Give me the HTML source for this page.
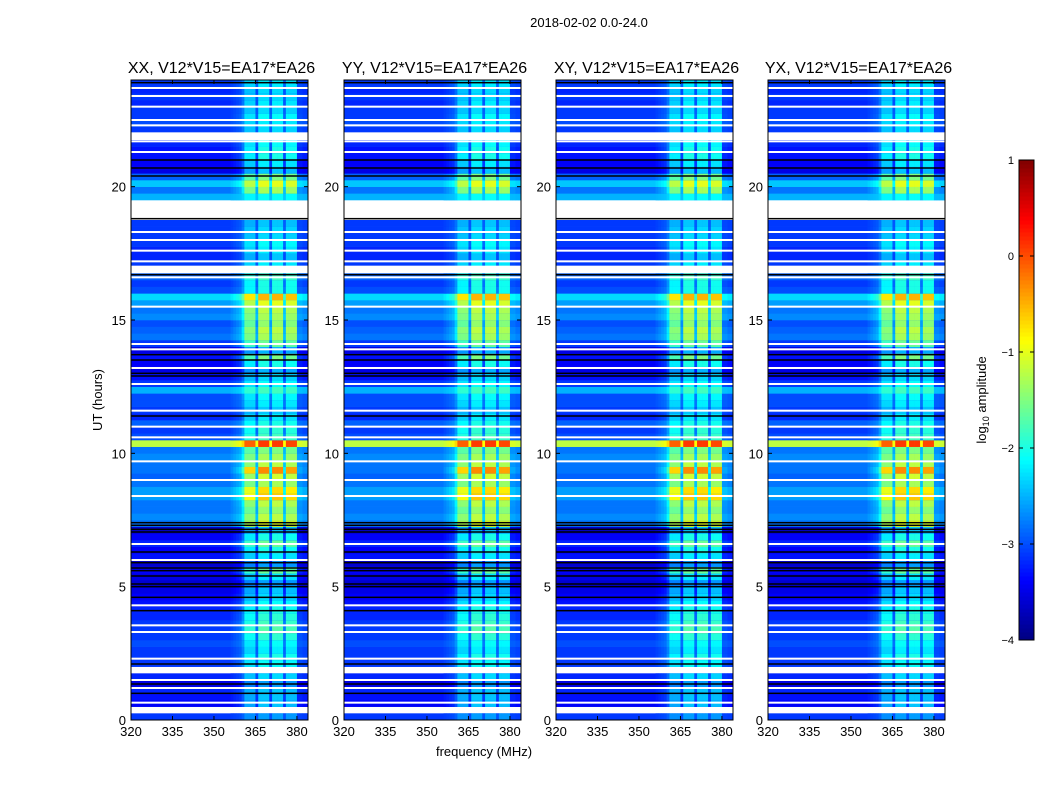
<!DOCTYPE html>
<html><head><meta charset="utf-8"><style>
body{margin:0;background:#fff;}
svg{display:block;font-family:"Liberation Sans",sans-serif;}
</style></head><body>
<svg id="fig" width="1050" height="800" viewBox="0 0 1050 800" xmlns="http://www.w3.org/2000/svg">
<rect width="1050" height="800" fill="#fff"/>
<text x="589" y="27" font-size="13" text-anchor="middle">2018-02-02 0.0-24.0</text>
<text x="484" y="756" font-size="13" text-anchor="middle">frequency (MHz)</text>
<text transform="translate(102,400) rotate(-90)" font-size="13" text-anchor="middle">UT (hours)</text>
<g id="panels"></g>
<g id="cbar"></g>
</svg>
<script>
// ---- data (log10 amplitude), one value per 0.25 h row; null = flagged (white)
const titles = ["XX, V12*V15=EA17*EA26","YY, V12*V15=EA17*EA26","XY, V12*V15=EA17*EA26","YX, V12*V15=EA17*EA26"];
const bgLevel = [
-3.1,null,-3.4,-3.3,-3.2,-3.5,-3.2,null,-3.1,-3.1,-3.1,-3.0,
-3.1,-3.1,-3.1,-3.2,-3.2,-3.3,-3.4,-3.5,-3.6,-3.5,-3.4,-3.6,
-3.3,-3.4,-3.2,-3.4,-3.6,-2.8,-2.7,-2.8,-2.8,-2.6,-2.6,-2.8,
-2.9,-2.8,-2.8,-2.7,-2.8,-1.2,-3.0,-3.1,-2.9,-3.2,-3.1,-3.0,
-3.0,-2.5,-3.1,-3.3,-3.5,-3.4,-3.3,-3.5,-3.1,-2.8,-2.9,-3.0,
-2.7,-2.8,-2.6,-2.3,-3.0,-3.1,-2.9,null,-3.1,-3.2,-3.2,-3.1,
-3.1,-3.1,-3.1,null,null,null,-2.5,-2.8,-2.4,-2.9,-3.5,-3.4,
-3.3,-3.3,-3.2,null,-3.1,-3.0,-3.1,-3.1,-3.2,-3.1,-3.2,-3.1];
const rfiLevel = [
-2.6,null,-2.4,-2.4,-2.4,-2.6,-2.3,null,-2.1,-2.0,-2.2,-2.1,
-1.9,-1.7,-1.8,-1.9,-2.0,-2.1,-2.3,-2.4,-2.6,-2.2,-1.6,-2.6,
-2.2,-2.0,-1.6,-2.0,-2.4,-1.0,-1.2,-1.4,-1.2,-0.6,-0.7,-1.3,
-1.1,-0.3,-1.2,-1.3,-1.5,0.1,-1.8,-1.9,-2.0,-2.2,-2.4,-2.2,
-2.1,-1.8,-2.1,-2.3,-2.5,-2.0,-1.5,-2.5,-1.6,-1.3,-1.2,-1.4,
-1.3,-1.2,-1.0,-0.5,-2.0,-2.0,-1.8,null,-2.2,-2.4,-2.2,-2.1,
-2.3,-2.3,-2.4,null,null,null,-2.1,-1.3,-1.0,-1.5,-2.4,-2.2,
-2.0,-2.0,-2.1,null,-2.3,-2.2,-2.1,-2.3,-2.2,-2.3,-2.3,-2.2];
// channel weight of the RFI band, 1 MHz channels from 320 to 384 MHz
const chanWeight = [0,0,0,0,0,0,0,0,0,0,0,0,0,0,0,0,0,0,0,0,
0,0,0,0,0,0,0,0,0,0,0,0,0,0,0,0,0.05,0.1,0.15,0.2,
0.4,0.85,0.85,0.85,0.85,0.2,1,1,1,1,0.25,1,1,1,1,0.25,0.95,0.95,0.95,0.95,0.1,0.1,0.05,0.05];
const whiteLines = [0.65,1.2,1.5,2.3,3.3,3.55,4.3,6.0,6.6,8.4,9.0,9.7,10.6,11.0,11.6,12.6,13.2,13.9,14.1,15.5,16.6,17.0,17.2,17.6,18.0,18.3,21.3,21.7,22.0,22.3,22.5,23.0,23.4,23.7];
const blackLines = [1.0,1.35,2.1,4.1,4.6,5.0,5.1,5.4,5.6,5.7,5.9,6.3,7.05,7.15,7.3,7.4,11.4,12.9,13.0,13.5,13.7,16.7,18.8,20.4,20.7,21.0,23.9];
const xTicks = [320,335,350,365,380];
const yTicks = [0,5,10,15,20];
const cbTicks = [1,0,-1,-2,-3,-4];

const NS="http://www.w3.org/2000/svg";
const panelX=[131,344,556,768], PW=177, PT=80, PB=720;
const fmin=320,fmax=384,hmax=24,vmin=-4,vmax=1;
function el(t,a,p){const e=document.createElementNS(NS,t);for(const k in a)e.setAttribute(k,a[k]);p.appendChild(e);return e;}
function jet(v){
  let t=(v-vmin)/(vmax-vmin); t=Math.max(0,Math.min(1,t));
  const f=x=>Math.round(255*Math.max(0,Math.min(1,x)));
  const r=f(Math.min(4*t-1.5,-4*t+4.5)), g=f(Math.min(4*t-0.5,-4*t+3.5)), b=f(Math.min(4*t+0.5,-4*t+2.5));
  return `rgb(${r},${g},${b})`;
}
const g=document.getElementById('panels');
panelX.forEach((x0,p)=>{
  const xs=f=>x0+(f-fmin)/(fmax-fmin)*PW;
  const ys=h=>PB-(h/hmax)*(PB-PT);
  const pg=el('g',{},g);
  
  
  bgLevel.forEach((bv,i)=>{
    const h0=i*hmax/bgLevel.length, h1=(i+1)*hmax/bgLevel.length;
    const y=ys(h1), hh=ys(h0)-ys(h1)+0.3;
    if(bv===null){return;}
    const r=el('rect',{x:xs(fmin),y:y,width:xs(fmax)-xs(fmin),height:hh,fill:jet(bv)},pg);
    
    
    const rv=rfiLevel[i];
    if(rv===null) return;
    chanWeight.forEach((w,c)=>{
      if(w<=0) return;
      const v=bv+w*(rv-bv);
      const cell=el('rect',{x:xs(fmin+c),y:y,width:xs(fmin+c+1)-xs(fmin+c)+0.3,height:hh,fill:jet(v)},pg);
      
      
    });
  });
  whiteLines.forEach(h=>{const l=el('rect',{x:x0,y:ys(h)-1,width:PW,height:2,fill:'#fff'},pg);
    });
  blackLines.forEach(h=>{const l=el('rect',{x:x0,y:ys(h)-0.75,width:PW,height:1.5,fill:'#000'},pg);
    });
  const fr=el('rect',{x:x0,y:PT,width:PW,height:PB-PT,fill:'none',stroke:'#000','stroke-width':1},pg);
  
  const t=el('text',{x:x0+PW/2+2,y:73,'font-size':16,'text-anchor':'middle'},pg);t.textContent=titles[p];
  
  xTicks.forEach(v=>{const X=xs(v);
    el('line',{x1:X,x2:X,y1:PB,y2:PB-4,stroke:'#000'},pg);el('line',{x1:X,x2:X,y1:PT,y2:PT+4,stroke:'#000'},pg);
    const l=el('text',{x:X,y:PB+16,'font-size':13,'text-anchor':'middle'},pg);l.textContent=v;
    });
  yTicks.forEach(v=>{const Y=ys(v);
    el('line',{x1:x0,x2:x0+4,y1:Y,y2:Y,stroke:'#000'},pg);el('line',{x1:x0+PW,x2:x0+PW-4,y1:Y,y2:Y,stroke:'#000'},pg);
    const l=el('text',{x:x0-5,y:Y+5,'font-size':13,'text-anchor':'end'},pg);l.textContent=v;
    });
});
// colorbar
const cb=document.getElementById('cbar');
const CX=1019,CW=15,CT=160,CB=640;
const cy=v=>CB-(v-vmin)/(vmax-vmin)*(CB-CT);
for(let i=0;i<120;i++){const v0=vmin+i*(vmax-vmin)/120, v1=vmin+(i+1)*(vmax-vmin)/120;
  el('rect',{x:CX,y:cy(v1),width:CW,height:cy(v0)-cy(v1)+0.5,fill:jet((v0+v1)/2)},cb);}
el('rect',{x:CX,y:CT,width:CW,height:CB-CT,fill:'none',stroke:'#000'},cb);
cbTicks.forEach(v=>{const Y=cy(v);
  el('line',{x1:CX,x2:CX+4,y1:Y,y2:Y,stroke:'#000'},cb);el('line',{x1:CX+CW,x2:CX+CW-4,y1:Y,y2:Y,stroke:'#000'},cb);
  const l=el('text',{x:CX-5,y:Y+4,'font-size':11,'text-anchor':'end'},cb);l.textContent=v<0?'\u2212'+(-v):v;
  });
const cl=el('text',{transform:'translate(986,400) rotate(-90)','font-size':13,'text-anchor':'middle'},cb);
cl.innerHTML='log<tspan font-size="9" dy="3">10</tspan><tspan dy="-3"> amplitude</tspan>';

</script>
</body></html>
